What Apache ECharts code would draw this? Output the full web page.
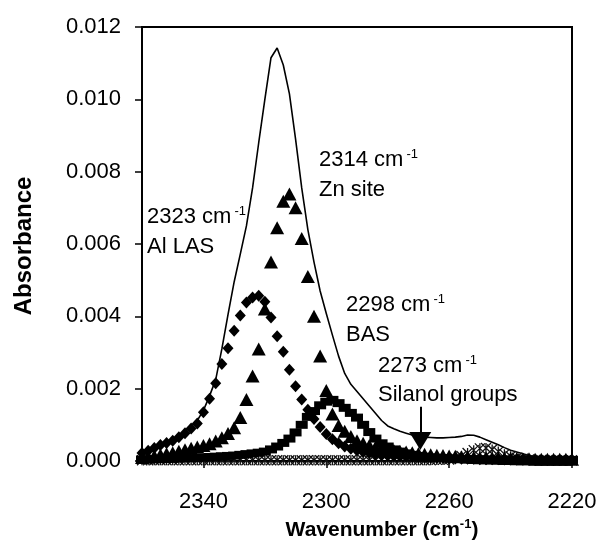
<!DOCTYPE html>
<html>
<head>
<meta charset="utf-8">
<script src="https://cdn.jsdelivr.net/npm/echarts@6/dist/echarts.min.js"></script>
<style>
html, body { margin: 0; padding: 0; background: #fff; }
#main { width: 601px; height: 553px; }
</style>
</head>
<body>
<div id="main"></div>
<script>
// wavenumber grid, cm-1 (axis runs high -> low)
var wavenumbers = [
    2360, 2358, 2356, 2354, 2352, 2350, 2348, 2346, 2344, 2342,
    2340, 2338, 2336, 2334, 2332, 2330, 2328, 2326, 2324, 2322,
    2320, 2318, 2316, 2314, 2312, 2310, 2308, 2306, 2304, 2302,
    2300, 2298, 2296, 2294, 2292, 2290, 2288, 2286, 2284, 2282,
    2280, 2278, 2276, 2274, 2272, 2270, 2268, 2266, 2264, 2262,
    2260, 2258, 2256, 2254, 2252, 2250, 2248, 2246, 2244, 2242,
    2240, 2238, 2236, 2234, 2232, 2230, 2228, 2226, 2224, 2222,
    2220
];
// measured spectrum (solid line)
var totalSpectrum = [
    0.00024, 0.00030, 0.00038, 0.00046, 0.00053, 0.00060, 0.00070, 0.00082, 0.00096, 0.00112,
    0.00140, 0.00180, 0.00225, 0.00310, 0.00405, 0.00495, 0.00572, 0.00650, 0.00755, 0.00880,
    0.01000, 0.01115, 0.01142, 0.01095, 0.01015, 0.00890, 0.00755, 0.00640, 0.00550, 0.00470,
    0.00408, 0.00348, 0.00290, 0.00242, 0.00212, 0.00192, 0.00172, 0.00152, 0.00132, 0.00112,
    0.00097, 0.00089, 0.00082, 0.00077, 0.00072, 0.00068, 0.00066, 0.00065, 0.00064, 0.00064,
    0.00065, 0.00066, 0.00068, 0.00072, 0.00071, 0.00066, 0.00059, 0.00052, 0.00045, 0.00037,
    0.00030, 0.00025, 0.00020, 0.00015, 0.00012, 0.00010, 0.00008, 0.00006, 0.00004, 0.00003,
    0.00003
];
// 2323 cm-1, Al LAS (diamonds)
var alLas = [
    0.00022, 0.00028, 0.00036, 0.00044, 0.00050, 0.00056, 0.00066, 0.00077, 0.00090, 0.00104,
    0.00135, 0.00172, 0.00215, 0.00268, 0.00312, 0.00360, 0.00402, 0.00438, 0.00452, 0.00457,
    0.00440, 0.00397, 0.00345, 0.00302, 0.00252, 0.00207, 0.00170, 0.00142, 0.00116, 0.00094,
    0.00075, 0.00060, 0.00049, 0.00040, 0.00034, 0.00029, 0.00025, 0.00022, 0.00019, 0.00017,
    0.00015, 0.00014, 0.00013, 0.00012, 0.00011, 0.00010, 0.00009, 0.00009, 0.00008, 0.00008,
    0.00007, 0.00007, 0.00006, 0.00006, 0.00006, 0.00005, 0.00005, 0.00005, 0.00005, 0.00004,
    0.00004, 0.00004, 0.00004, 0.00004, 0.00003, 0.00003, 0.00003, 0.00003, 0.00003, 0.00003,
    0.00003
];
// 2314 cm-1, Zn site (triangles)
var znSite = [
    0.00010, 0.00012, 0.00014, 0.00017, 0.00020, 0.00023, 0.00027, 0.00031, 0.00035, 0.00039,
    0.00043, 0.00048, 0.00055, 0.00064, 0.00076, 0.00092, 0.00120, 0.00170, 0.00235, 0.00310,
    0.00420, 0.00550, 0.00645, 0.00718, 0.00738, 0.00700, 0.00615, 0.00510, 0.00400, 0.00290,
    0.00195, 0.00130, 0.00098, 0.00082, 0.00068, 0.00056, 0.00049, 0.00043, 0.00038, 0.00034,
    0.00031, 0.00029, 0.00027, 0.00025, 0.00023, 0.00021, 0.00019, 0.00017, 0.00016, 0.00015,
    0.00014, 0.00013, 0.00012, 0.00011, 0.00010, 0.00009, 0.00009, 0.00008, 0.00008, 0.00007,
    0.00007, 0.00006, 0.00006, 0.00006, 0.00005, 0.00005, 0.00005, 0.00005, 0.00005, 0.00005,
    0.00005
];
// 2298 cm-1, BAS (squares)
var bas = [
    0.00004, 0.00004, 0.00005, 0.00005, 0.00006, 0.00006, 0.00007, 0.00008, 0.00008, 0.00009,
    0.00010, 0.00011, 0.00012, 0.00013, 0.00014, 0.00015, 0.00017, 0.00019, 0.00021, 0.00023,
    0.00026, 0.00032, 0.00040, 0.00050, 0.00062, 0.00079, 0.00100, 0.00122, 0.00138, 0.00154,
    0.00164, 0.00169, 0.00160, 0.00147, 0.00133, 0.00120, 0.00100, 0.00080, 0.00062, 0.00049,
    0.00040, 0.00032, 0.00026, 0.00021, 0.00017, 0.00014, 0.00012, 0.00010, 0.00009, 0.00008,
    0.00007, 0.00006, 0.00006, 0.00005, 0.00005, 0.00005, 0.00004, 0.00004, 0.00004, 0.00004,
    0.00004, 0.00003, 0.00003, 0.00003, 0.00003, 0.00003, 0.00003, 0.00003, 0.00003, 0.00003,
    0.00003
];
// silanol groups (crosses)
var silanol = [
    0.00002, 0.00002, 0.00002, 0.00002, 0.00002, 0.00002, 0.00002, 0.00002, 0.00002, 0.00002,
    0.00002, 0.00002, 0.00002, 0.00002, 0.00002, 0.00002, 0.00002, 0.00002, 0.00002, 0.00002,
    0.00002, 0.00002, 0.00002, 0.00002, 0.00002, 0.00002, 0.00002, 0.00002, 0.00002, 0.00002,
    0.00002, 0.00002, 0.00002, 0.00002, 0.00002, 0.00002, 0.00002, 0.00002, 0.00002, 0.00002,
    0.00002, 0.00002, 0.00002, 0.00002, 0.00002, 0.00002, 0.00002, 0.00002, 0.00003, 0.00003,
    0.00004, 0.00008, 0.00014, 0.00022, 0.00030, 0.00035, 0.00036, 0.00032, 0.00026, 0.00019,
    0.00013, 0.00009, 0.00006, 0.00004, 0.00003, 0.00003, 0.00002, 0.00002, 0.00002, 0.00002,
    0.00002
];
var xTicks = [2340, 2300, 2260, 2220];

var FONT = '"Liberation Sans", Arial, sans-serif';

function pairs(ys) {
    return wavenumbers.map(function (w, i) { return [w, ys[i]]; });
}

function note(x, y, main, sup) {
    var txt = sup ? '{n|' + main + '}{s|' + sup + '}' : '{n|' + main + '}';
    return {
        type: 'text', x: x, y: y, z: 50,
        style: {
            text: txt, align: 'left', verticalAlign: 'middle',
            fill: '#000',
            rich: {
                n: {fontFamily: FONT, fontSize: 22, lineHeight: 24, fill: '#000'},
                s: {fontFamily: FONT, fontSize: 13, lineHeight: 14, verticalAlign: 'top', padding: [0, 0, 0, 3], fill: '#000'}
            }
        }
    };
}

var chart = echarts.init(document.getElementById('main'));
chart.setOption({
    animation: false,
    backgroundColor: '#fff',
    grid: {
        left: 142, right: 29, top: 27, bottom: 92,
        show: true, borderColor: '#000', borderWidth: 2, backgroundColor: 'transparent'
    },
    xAxis: {
        type: 'value',
        inverse: true,
        min: 2220,
        max: 2360,
        axisLine: {onZero: false, lineStyle: {color: '#000', width: 2}},
        axisTick: {show: true, length: 7, customValues: xTicks, lineStyle: {color: '#000', width: 1.5}},
        axisLabel: {
            customValues: xTicks, margin: 30, color: '#000', fontFamily: FONT, fontSize: 22,
            formatter: function (v) { return String(v); }
        },
        splitLine: {show: false}
    },
    yAxis: {
        type: 'value',
        min: 0,
        max: 0.012,
        interval: 0.002,
        axisLine: {show: true, lineStyle: {color: '#000', width: 2}},
        axisTick: {show: true, length: 7, lineStyle: {color: '#000', width: 1.5}},
        axisLabel: {
            margin: 21, color: '#000', fontFamily: FONT, fontSize: 22,
            formatter: function (v) { return v.toFixed(3); }
        },
        splitLine: {show: false}
    },
    graphic: [
        {
            type: 'text', x: 24, y: 246, rotation: Math.PI / 2, z: 50,
            style: {
                text: 'Absorbance', align: 'center', verticalAlign: 'middle',
                font: 'bold 24px ' + FONT, fill: '#000'
            }
        },
        {
            type: 'text', x: 382, y: 530, z: 50,
            style: {
                text: '{n|Wavenumber (cm}{s|-1}{n|)}', align: 'center', verticalAlign: 'middle',
                fill: '#000',
                rich: {
                    n: {fontFamily: FONT, fontWeight: 'bold', fontSize: 21, lineHeight: 24, fill: '#000'},
                    s: {fontFamily: FONT, fontWeight: 'bold', fontSize: 13, lineHeight: 14, verticalAlign: 'top', fill: '#000'}
                }
            }
        },
        note(147, 217, '2323 cm', '-1'),
        note(147, 247, 'Al LAS'),
        note(319, 160, '2314 cm', '-1'),
        note(319, 190, 'Zn site'),
        note(346, 305, '2298 cm', '-1'),
        note(346, 335, 'BAS'),
        note(378, 366, '2273 cm', '-1'),
        note(378, 395, 'Silanol groups')
    ],
    series: [
        {
            name: 'spectrum',
            type: 'line',
            data: pairs(totalSpectrum),
            showSymbol: false,
            lineStyle: {color: '#000', width: 1.6}
        },
        {
            name: 'Silanol',
            type: 'line',
            data: pairs(silanol),
            symbol: 'path://M0,0L10,10M10,0L0,10M5,0L5,10',
            symbolSize: 10,
            lineStyle: {width: 0, opacity: 0},
            itemStyle: {color: 'transparent', borderColor: '#111', borderWidth: 1.3},
            markLine: {
                silent: true,
                symbol: ['none', 'triangle'],
                symbolSize: [22, 18],
                label: {show: false},
                lineStyle: {color: '#000', width: 2, type: 'solid'},
                data: [[{coord: [2269.4, 0.00150]}, {coord: [2269.4, 0.00055]}]]
            }
        },
        {
            name: 'BAS',
            type: 'line',
            data: pairs(bas),
            symbol: 'rect',
            symbolSize: [12, 8],
            lineStyle: {width: 0, opacity: 0},
            itemStyle: {color: '#000'}
        },
        {
            name: 'Zn site',
            type: 'line',
            data: pairs(znSite),
            symbol: 'triangle',
            symbolSize: [14, 13],
            lineStyle: {width: 0, opacity: 0},
            itemStyle: {color: '#000'}
        },
        {
            name: 'Al LAS',
            type: 'line',
            data: pairs(alLas),
            symbol: 'diamond',
            symbolSize: [11, 12],
            lineStyle: {width: 0, opacity: 0},
            itemStyle: {color: '#000'}
        }
    ]
});
</script>
</body>
</html>
